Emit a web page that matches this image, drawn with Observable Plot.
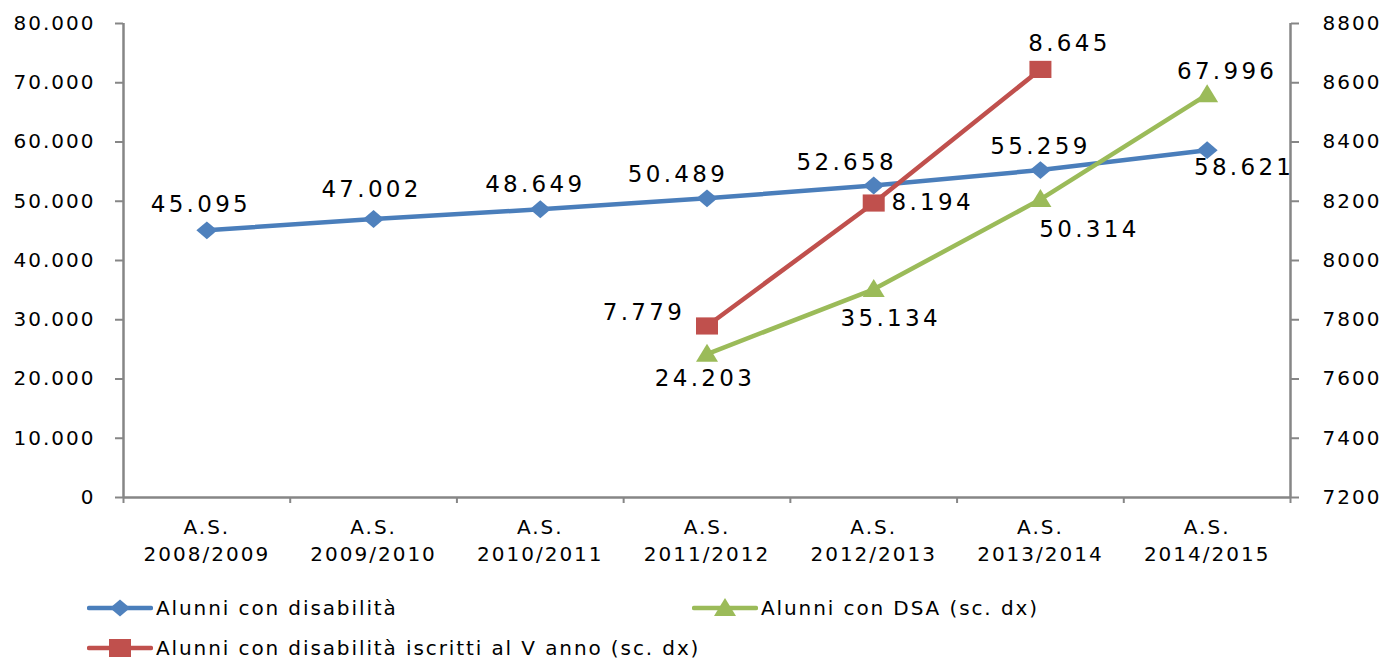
<!DOCTYPE html>
<html>
<head>
<meta charset="utf-8">
<script src="https://cdn.jsdelivr.net/npm/d3@7"></script>
<script src="https://cdn.jsdelivr.net/npm/@observablehq/plot@0.6"></script>
<style>
  body { margin: 0; background: #fff; }
  #wrap { position: relative; width: 1387px; height: 661px; font-family: "DejaVu Sans", sans-serif; color: #000; }
  #chart svg { display: block; }
  #chart g[aria-label="y-axis tick"] path { stroke: #868686; stroke-width: 2px; }
  #chart g[aria-label="x-axis tick"] path { stroke: #868686; stroke-width: 2px; }
  #chart g[font-size="23"] text { letter-spacing: 3.3px; }
  .leg { position: absolute; display: flex; align-items: center; height: 30px; font-size: 20px; letter-spacing: 1.9px; white-space: nowrap; }
  .leg svg { display: block; margin-right: 3px; }
</style>
</head>
<body>
<div id="wrap">
  <div id="chart"></div>
</div>
<script>
// ---- data ----
const categories = ["A.S.\n2008/2009", "A.S.\n2009/2010", "A.S.\n2010/2011", "A.S.\n2011/2012", "A.S.\n2012/2013", "A.S.\n2013/2014", "A.S.\n2014/2015"];
const alunniDisabilita = [45095, 47002, 48649, 50489, 52658, 55259, 58621];
const alunniDSA = [null, null, null, 24203, 35134, 50314, 67996];
const alunniVAnno = [null, null, null, 7779, 8194, 8645, null];
const leftTicks = [0, 10000, 20000, 30000, 40000, 50000, 60000, 70000, 80000];
const rightTicks = [7200, 7400, 7600, 7800, 8000, 8200, 8400, 8600, 8800];
const seriesNames = ["Alunni con disabilità", "Alunni con DSA (sc. dx)", "Alunni con disabilità iscritti al V anno (sc. dx)"];
const seriesColors = ["#4A7EBB", "#9BBB59", "#C0504D"];

// ---- helpers ----
const it = d3.formatLocale({decimal: ",", thousands: ".", grouping: [3], currency: ["€", ""]});
const fmt = it.format(",");
const rightMin = rightTicks[0], rightMax = rightTicks[rightTicks.length - 1];
const leftMax = leftTicks[leftTicks.length - 1];
const toLeft = v => (v - rightMin) / (rightMax - rightMin) * leftMax;
const fromLeft = y => rightMin + y / leftMax * (rightMax - rightMin);

const rows = (arr, conv = v => v) => arr.map((v, i) => v == null ? null : {i, v, y: conv(v)}).filter(d => d);
const blue = rows(alunniDisabilita);
const green = rows(alunniDSA);
const red = rows(alunniVAnno, toLeft);

// custom marker shapes (slightly wide, like the original)
const diamondSym = {draw(ctx, size) { const r = Math.sqrt(size / Math.PI); const h = r * 0.85; ctx.moveTo(-r, 0); ctx.lineTo(0, -h); ctx.lineTo(r, 0); ctx.lineTo(0, h); ctx.closePath(); }};
const squareSym = {draw(ctx, size) { const r = Math.sqrt(size / Math.PI); const h = r * 0.78; ctx.moveTo(-r, -h); ctx.lineTo(r, -h); ctx.lineTo(r, h); ctx.lineTo(-r, h); ctx.closePath(); }};
const triSym = {draw(ctx, size) { const r = Math.sqrt(size / Math.PI); ctx.moveTo(0, -r * 0.95); ctx.lineTo(r, r * 0.7); ctx.lineTo(-r, r * 0.7); ctx.closePath(); }};

// label offsets (styling) by series and index
const blueOff = {0: [-6, -26], 1: [-2, -29], 2: [-5, -25], 3: [-29, -24], 4: [-27, -23], 5: [0, -23], 6: [37, 17]};
const redOff = {3: [-63, -13], 4: [59, 0], 5: [29, -26]};
const greenOff = {3: [-2, 25], 4: [17, 29], 5: [49, 30], 6: [20, -23]};

function labelMarks(data, offs) {
  return data.map(d => Plot.text([d], {
    x: "i", y: "y", text: d => fmt(d.v), dx: offs[d.i][0], dy: offs[d.i][1],
    fill: "#000", fontSize: 23, textAnchor: "middle"
  }));
}

const idx = categories.map((c, i) => i);
const bounds = d3.range(-0.5, categories.length, 1);
const grey = "#868686";

const chart = Plot.plot({
  width: 1387,
  height: 575,
  marginLeft: 123,
  marginRight: 97,
  marginTop: 23,
  marginBottom: 78,
  style: {fontFamily: "DejaVu Sans, sans-serif", fontSize: "20px", color: "#000", letterSpacing: "2px", background: "#fff", overflow: "visible"},
  x: {domain: [-0.5, categories.length - 0.5], axis: null},
  y: {domain: [0, leftMax], axis: null},
  marks: [
    // axes
    Plot.axisY(leftTicks, {anchor: "left", tickFormat: fmt, tickSize: 8, tickPadding: 20, stroke: grey, fill: "#000", fontSize: 20, label: null}),
    Plot.axisY(leftTicks, {anchor: "right", tickFormat: d => String(Math.round(fromLeft(d))), tickSize: 8, tickPadding: 24, stroke: grey, fill: "#000", fontSize: 20, label: null}),
    Plot.axisX(bounds, {anchor: "bottom", tickFormat: () => "", tickSize: 6, stroke: grey, label: null}),
    Plot.text(idx, {x: d => d, y: 0, text: d => categories[d], dy: 17, lineAnchor: "top", lineHeight: 1.35, fontSize: 20, fill: "#000"}),
    Plot.ruleY([0], {stroke: grey, strokeWidth: 2.5}),
    Plot.ruleX([-0.5], {stroke: grey, strokeWidth: 2.5}),
    Plot.ruleX([categories.length - 0.5], {stroke: grey, strokeWidth: 2.5}),
    // series
    Plot.line(blue, {x: "i", y: "y", stroke: seriesColors[0], strokeWidth: 4.5}),
    Plot.line(green, {x: "i", y: "y", stroke: seriesColors[1], strokeWidth: 4.5}),
    Plot.line(red, {x: "i", y: "y", stroke: seriesColors[2], strokeWidth: 4.5}),
    Plot.dot(blue, {x: "i", y: "y", symbol: diamondSym, r: 10.5, fill: "#4F81BD", stroke: "none"}),
    Plot.dot(green, {x: "i", y: "y", symbol: triSym, r: 11, fill: seriesColors[1], stroke: "none"}),
    Plot.dot(red, {x: "i", y: "y", symbol: squareSym, r: 11, fill: seriesColors[2], stroke: "none"}),
    ...labelMarks(blue, blueOff),
    ...labelMarks(red, redOff),
    ...labelMarks(green, greenOff)
  ]
});
document.getElementById("chart").appendChild(chart);

// ---- legend (HTML below the SVG) ----
const swatch = {
  0: '<path d="M-10,0 L0,-8.5 L10,0 L0,8.5 Z" fill="#4F81BD"/>',
  1: '<path d="M0,-10 L11,8 L-11,8 Z" fill="#9BBB59"/>',
  2: '<rect x="-11" y="-9" width="22" height="18" fill="#C0504D"/>'
};
const legendPos = [[87, 593], [692, 593], [87, 633]];
const wrap = document.getElementById("wrap");
seriesNames.forEach((name, s) => {
  const el = document.createElement("div");
  el.className = "leg";
  el.style.left = legendPos[s][0] + "px";
  el.style.top = legendPos[s][1] + "px";
  el.innerHTML = `<svg width="66" height="30" viewBox="-33 -15 66 30"><line x1="-31" x2="31" y1="0" y2="0" stroke="${seriesColors[s]}" stroke-width="4.5" stroke-linecap="round"/>${swatch[s]}</svg><span>${name}</span>`;
  wrap.appendChild(el);
});
</script>
</body>
</html>
